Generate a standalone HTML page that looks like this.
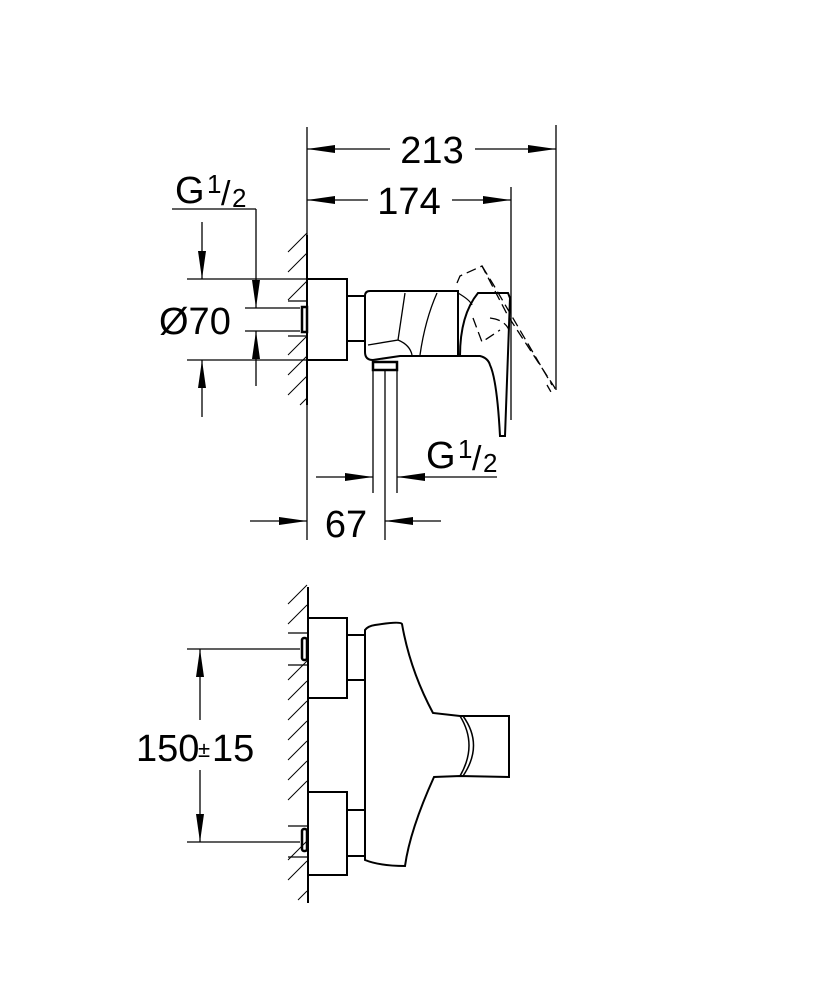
<!DOCTYPE html>
<html><head><style>body{margin:0;background:#fff}svg{display:block}</style></head><body>
<svg width="833" height="1000" viewBox="0 0 833 1000" xmlns="http://www.w3.org/2000/svg" font-family="Liberation Sans, sans-serif">
<defs>
<marker id="b" viewBox="0 0 28 10" refX="28" refY="5" markerWidth="28" markerHeight="10" orient="auto-start-reverse" markerUnits="userSpaceOnUse"><path d="M0,1 L28,5 L0,9 z" fill="#000"/></marker>
</defs>
<g stroke="#000" fill="none" stroke-width="1.3">
<line x1="307" y1="235" x2="307" y2="405" stroke-width="2"/>
<g stroke-width="1">
<line x1="288" y1="252" x2="307" y2="233"/><line x1="288" y1="272" x2="307" y2="253"/>
<line x1="288" y1="300" x2="307" y2="281"/><line x1="288" y1="355" x2="307" y2="336"/>
<line x1="288" y1="375" x2="307" y2="356"/><line x1="288" y1="395" x2="307" y2="376"/>
<line x1="300" y1="405" x2="307" y2="398"/>
</g>
<line x1="288" y1="301" x2="307" y2="301"/><line x1="288" y1="336" x2="307" y2="336"/>
<rect x="302" y="307" width="5" height="25" stroke-width="2.5"/>
<rect x="307" y="279" width="40" height="81" stroke-width="2"/>
<rect x="347" y="296" width="18" height="45" stroke-width="2"/>
<path d="M365,296 Q365,291 370,291 L458,291 L458,356 L400,356 L373,360 Q365,360 365,352 Z" stroke-width="2"/>
<path d="M405,293 L398,340 L368,345" stroke-width="1.3"/>
<path d="M437,293 Q425,320 420,355" stroke-width="1.3"/>
<path d="M398,340 Q410,345 412,355"/>
<path d="M478,293 L508,293 L510,298 L505,436 L500,436 Q497,380 490,365 Q488,358 480,356 L460,356 Q460,315 478,293 Z" stroke-width="2"/>
<path d="M458,293 Q470,300 472,305"/>
<g stroke-dasharray="10,5">
<path d="M457,283 L460,276 L482,266 L508,316 L555,388 L551,392 L547,385"/>
<path d="M482,266 L493,284 L552,385"/>
<path d="M473,318 L482,342 L500,330"/>
<path d="M490,318 Q505,320 509,330"/>
</g>
<rect x="373" y="362" width="24" height="8" stroke-width="2.5"/>
<line x1="373" y1="370" x2="373" y2="493"/><line x1="397" y1="370" x2="397" y2="493"/>
<line x1="385" y1="370" x2="385" y2="540"/>
<line x1="307" y1="127" x2="307" y2="540"/>
<line x1="556" y1="125" x2="556" y2="390"/>
<line x1="511" y1="187" x2="511" y2="420"/>
<line x1="307" y1="149" x2="390" y2="149" marker-start="url(#b)"/>
<line x1="475" y1="149" x2="556" y2="149" marker-end="url(#b)"/>
<line x1="307" y1="200" x2="368" y2="200" marker-start="url(#b)"/>
<line x1="452" y1="200" x2="511" y2="200" marker-end="url(#b)"/>
<line x1="172" y1="209" x2="256" y2="209"/>
<line x1="256" y1="209" x2="256" y2="308" marker-end="url(#b)"/>
<line x1="256" y1="386" x2="256" y2="331" marker-end="url(#b)"/>
<line x1="245" y1="308" x2="300" y2="308"/><line x1="245" y1="331" x2="300" y2="331"/>
<line x1="187" y1="279" x2="307" y2="279"/><line x1="187" y1="360" x2="307" y2="360"/>
<line x1="202" y1="222" x2="202" y2="279" marker-end="url(#b)"/>
<line x1="202" y1="417" x2="202" y2="360" marker-end="url(#b)"/>
<line x1="316" y1="477" x2="373" y2="477" marker-end="url(#b)"/>
<line x1="497" y1="477" x2="397" y2="477" marker-end="url(#b)"/>
<line x1="250" y1="521" x2="307" y2="521" marker-end="url(#b)"/>
<line x1="441" y1="521" x2="385" y2="521" marker-end="url(#b)"/>
<line x1="308" y1="587" x2="308" y2="903" stroke-width="2"/>
<g stroke-width="1">
<line x1="288" y1="604" x2="307" y2="585"/><line x1="288" y1="624" x2="307" y2="605"/>
<line x1="288" y1="680" x2="307" y2="661"/><line x1="288" y1="700" x2="307" y2="681"/>
<line x1="288" y1="720" x2="307" y2="701"/><line x1="288" y1="740" x2="307" y2="721"/>
<line x1="288" y1="760" x2="307" y2="741"/><line x1="288" y1="780" x2="307" y2="761"/>
<line x1="288" y1="800" x2="307" y2="781"/><line x1="288" y1="860" x2="307" y2="841"/>
<line x1="288" y1="880" x2="307" y2="861"/><line x1="298" y1="900" x2="307" y2="891"/>
</g>
<line x1="288" y1="633" x2="307" y2="633"/><line x1="288" y1="665" x2="307" y2="665"/>
<line x1="288" y1="826" x2="307" y2="826"/><line x1="288" y1="857" x2="307" y2="857"/>
<rect x="302" y="638" width="5" height="22" rx="2" stroke-width="2.5"/>
<rect x="302" y="829" width="5" height="22" rx="2" stroke-width="2.5"/>
<rect x="308" y="618" width="39" height="80" stroke-width="2"/>
<rect x="308" y="792" width="39" height="83" stroke-width="2"/>
<line x1="347" y1="635" x2="365" y2="635" stroke-width="2"/><line x1="347" y1="680" x2="365" y2="680" stroke-width="2"/>
<line x1="347" y1="810" x2="365" y2="810" stroke-width="2"/><line x1="347" y1="856" x2="365" y2="856" stroke-width="2"/>
<path d="M365,630 Q368,626 375,625 Q400,621 402,624 Q410,670 433,713 L460,716 L509,716 L509,777 L460,776 L434,777 Q410,830 405,866 Q380,866 365,860 Z" stroke-width="2"/>
<path d="M460,716 Q478,745 460,776" stroke-width="1.5"/>
<path d="M463,716 Q484,745 463,776" stroke-width="1.5"/>
<line x1="187" y1="649" x2="300" y2="649"/><line x1="187" y1="842" x2="300" y2="842"/>
<line x1="200" y1="720" x2="200" y2="649" marker-end="url(#b)"/>
<line x1="200" y1="770" x2="200" y2="842" marker-end="url(#b)"/>
</g>
<g fill="#000" font-size="38">
<text x="432" y="163" text-anchor="middle">213</text>
<text x="409" y="214" text-anchor="middle">174</text>
<text x="175" y="203">G</text><text x="207" y="193" font-size="26">1</text><text x="221" y="205" font-size="34">/</text><text x="232" y="207" font-size="26">2</text>
<text x="159" y="334">Ø70</text>
<text x="426" y="468">G</text><text x="458" y="458" font-size="26">1</text><text x="472" y="470" font-size="34">/</text><text x="483" y="472" font-size="26">2</text>
<text x="346" y="537" text-anchor="middle">67</text>
<text x="136" y="761">150</text><text x="198" y="757" font-size="22">±</text><text x="212" y="761">15</text>
</g>
</svg>
</body></html>
